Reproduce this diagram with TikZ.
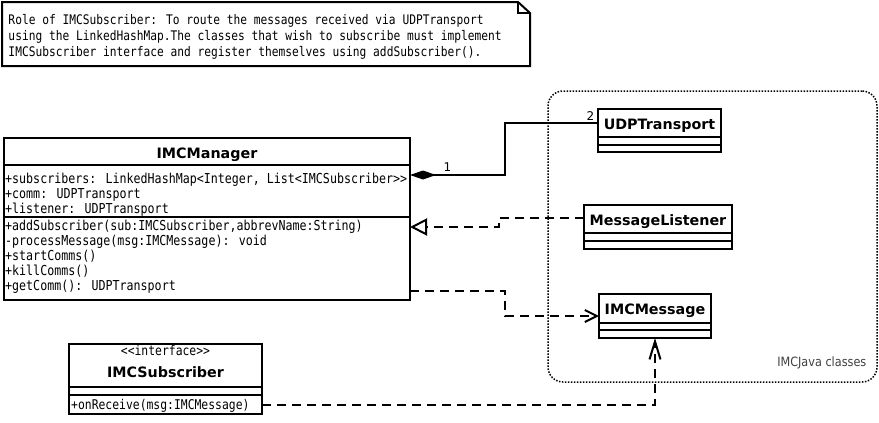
\documentclass[tikz,border=0pt]{standalone}
\usepackage{fontspec}
\setmainfont{DejaVu Sans}
\newfontfamily\monof[FakeStretch=0.85]{DejaVu Sans Mono}
\newfontfamily\condf[FakeStretch=0.88]{DejaVu Sans}
\usetikzlibrary{arrows.meta}
\begin{document}
\begin{tikzpicture}[x=1pt,y=-1pt,
  box/.style={draw, line width=2pt, inner sep=0pt, outer sep=0pt, anchor=north west, fill=white},
  sepline/.style={line width=2pt},
  mtext/.style={anchor=base west, inner sep=0pt, font=\monof\fontsize{13.7}{15}\selectfont},
  ntext/.style={anchor=base west, inner sep=0pt, font=\monof\fontsize{13.2}{15}\selectfont},
  stext/.style={anchor=base west, inner sep=0pt, font=\monof\fontsize{13.4}{15}\selectfont},
  ttl/.style={anchor=base, inner sep=0pt, font=\bfseries\fontsize{14.3}{16}\selectfont},
  lbl/.style={inner sep=0pt, font=\fontsize{12}{14}\selectfont},
  conn/.style={line width=2pt},
  dashconn/.style={line width=2pt, dash pattern=on 9pt off 6pt},
]
\useasboundingbox (0,0) rectangle (879,423);
\fill[white] (0,0) rectangle (879,423);

% note
\draw[line width=2pt] (2,2) -- (518,2) -- (530,13) -- (530,66) -- (2,66) -- cycle;
\draw[line width=1.5pt] (518,2) -- (518,13) -- (530,13);
\node[ntext] (n1) at (8.3,24.5) {Role of IMCSubscriber: To route the messages received via UDPTransport};
\node[ntext] (n2) at (8.3,40.5) {using the LinkedHashMap.The classes that wish to subscribe must implement};
\node[ntext] (n3) at (8.3,56.5) {IMCSubscriber interface and register themselves using addSubscriber().};

% package frame
\node[draw, line width=1.5pt, dash pattern=on 1.5pt off 1.5pt, rounded corners=15pt, inner sep=0pt, outer sep=0pt,
      anchor=north west, minimum width=329pt, minimum height=291pt] (pkg) at (548,91) {};
\node[anchor=base east, inner sep=0pt, text=black!75, font=\condf\fontsize{12.8}{14}\selectfont] (pkgl) at (866.5,366.5) {IMCJava classes};

% IMCManager
\node[box, minimum width=406pt, minimum height=162pt] (mgr) at (4,138) {};
\draw[sepline] (mgr.west |- 0,165) -- (mgr.east |- 0,165);
\draw[sepline] (mgr.west |- 0,217) -- (mgr.east |- 0,217);
\node[ttl] (mgrt) at (207,158.5) {IMCManager};
\node[mtext] (a1) at (5,183) {+subscribers: LinkedHashMap<Integer, List<IMCSubscriber>{}>};
\node[mtext] (a2) at (5,198.3) {+comm: UDPTransport};
\node[mtext] (a3) at (5,213.6) {+listener: UDPTransport};
\node[mtext] (m1) at (5,230.5) {+addSubscriber(sub:IMCSubscriber,abbrevName:String)};
\node[mtext] (m2) at (5,245.5) {-processMessage(msg:IMCMessage): void};
\node[mtext] (m3) at (5,260.5) {+startComms()};
\node[mtext] (m4) at (5,275.5) {+killComms()};
\node[mtext] (m5) at (5,290.5) {+getComm(): UDPTransport};

% UDPTransport
\node[box, minimum width=123pt, minimum height=43pt] (udp) at (598,109) {};
\draw[sepline] (udp.west |- 0,137) -- (udp.east |- 0,137);
\draw[sepline] (udp.west |- 0,145) -- (udp.east |- 0,145);
\node[ttl] (udpt) at (659.5,129.5) {UDPTransport};

% MessageListener
\node[box, minimum width=148pt, minimum height=44pt] (ml) at (584,205) {};
\draw[sepline] (ml.west |- 0,233) -- (ml.east |- 0,233);
\draw[sepline] (ml.west |- 0,241) -- (ml.east |- 0,241);
\node[ttl] (mlt) at (658,225) {MessageListener};

% IMCMessage
\node[box, minimum width=112pt, minimum height=44pt] (msg) at (599,294) {};
\draw[sepline] (msg.west |- 0,323) -- (msg.east |- 0,323);
\draw[sepline] (msg.west |- 0,330) -- (msg.east |- 0,330);
\node[ttl] (msgt) at (655,314) {IMCMessage};

% IMCSubscriber
\node[box, minimum width=193pt, minimum height=70pt] (sub) at (69,344) {};
\draw[sepline] (sub.west |- 0,387) -- (sub.east |- 0,387);
\draw[sepline] (sub.west |- 0,395) -- (sub.east |- 0,395);
\node[anchor=base, inner sep=0pt, font=\monof\fontsize{13.4}{15}\selectfont] (subs) at (165.5,355.5) {<{}<interface>{}>};
\node[ttl] (subt) at (165.5,377) {IMCSubscriber};
\node[stext] (s1) at (71,409) {+onReceive(msg:IMCMessage)};

% connectors
\coordinate (c1) at (505,175);
\draw[conn, {Diamond[length=26pt,width=9pt]}-] (mgr.east |- c1) -- (c1) |- (udp.west |- 0,123);
\node[lbl] (one) at (447.5,167) {1};
\node[lbl] (two) at (590.5,116) {2};

\coordinate (c2) at (499,218);
\draw[dashconn, -{Triangle[open, length=17pt, width=17pt, fill=white]}] (ml.west |- c2) -- (c2) |- (mgr.east |- 0,227);

\coordinate (c3) at (505,291);
\draw[dashconn, -{Straight Barb[length=12pt, width=12pt]}] (mgr.east |- c3) -- (c3) |- (msg.west);

\coordinate (c4) at (655,405);
\draw[dashconn, -{Straight Barb[length=18pt, width=11pt]}] (sub.east |- c4) -- (c4) -- (msg.south);
\end{tikzpicture}
\end{document}
